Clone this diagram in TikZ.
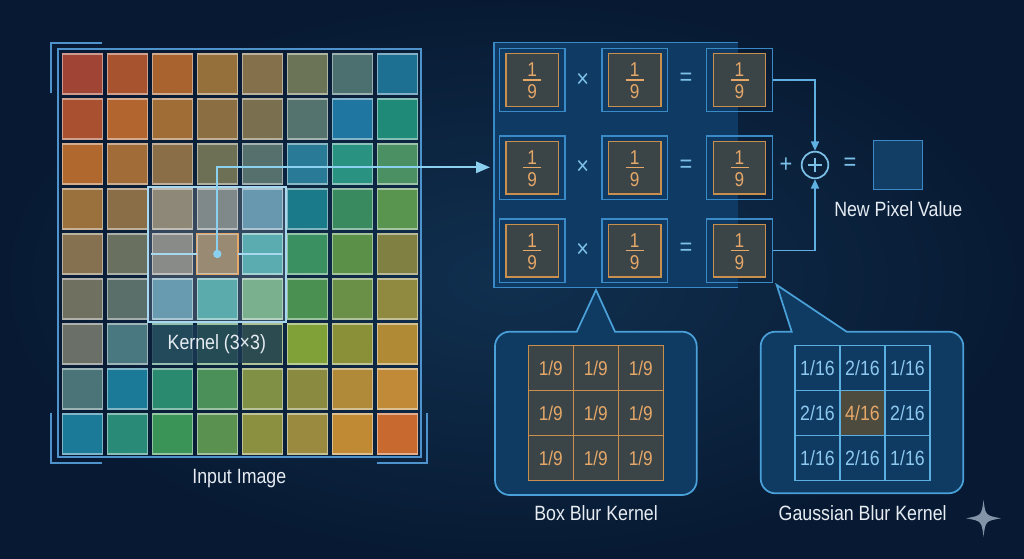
\documentclass[tikz,border=0pt]{standalone}
\usepackage{fontspec}
\setmainfont{Liberation Sans}[FakeStretch=0.86]
\usetikzlibrary{arrows.meta}
\definecolor{bgIn}{HTML}{10304F}
\definecolor{bgOut}{HTML}{081A33}
\definecolor{frameC}{HTML}{4F93CC}
\definecolor{lineC}{HTML}{5FB0E0}
\definecolor{kernC}{HTML}{A8D8F0}
\definecolor{dotC}{HTML}{8CD0F0}
\definecolor{panelC}{HTML}{0F3A63}
\definecolor{pborder}{HTML}{3A8AC8}
\definecolor{orangeC}{HTML}{C8904C}
\definecolor{orangeT}{HTML}{E6A868}
\definecolor{grayF}{HTML}{3B4447}
\definecolor{textC}{HTML}{E6ECF2}
\definecolor{signC}{HTML}{7CC0E8}
\definecolor{gaussT}{HTML}{8CC8F0}
\definecolor{gaussL}{HTML}{5AAEE0}
\definecolor{centerF}{HTML}{4D4A3E}
\definecolor{calloutF}{HTML}{0F3A62}
\definecolor{calloutB}{HTML}{4AA0D8}
\definecolor{newpixF}{HTML}{123E66}
\definecolor{sparkC}{HTML}{8494A8}
\definecolor{labelF}{HTML}{1C3A55}
\begin{document}
\begin{tikzpicture}[x=0.75pt,y=-0.75pt,
  cell/.style={minimum size=30pt,inner sep=0pt,line width=0.8pt},
  framestyle/.style={draw=frameC,line width=1.4pt},
  lbl/.style={text=textC,font=\fontsize{15.5}{18}\selectfont,inner sep=0pt},
  obox/.style={draw=pborder,line width=1.1pt,minimum width=49.3pt,minimum height=47.5pt,inner sep=0pt},
  ibox/.style={draw=orangeC,fill=grayF,line width=1.1pt,minimum width=39.2pt,minimum height=39.5pt,inner sep=0pt},
  fnum/.style={text=orangeT,font=\fontsize{15}{17}\selectfont,inner sep=0pt},
  fline/.style={draw=orangeT,line width=0.8pt},
  opsign/.style={text=signC,font=\fontsize{19}{21}\selectfont,inner sep=0pt},
  flow/.style={draw=lineC,line width=1.2pt},
  bgrid/.style={draw=orangeC,fill=grayF,line width=1pt,minimum size=33.75pt,inner sep=0pt,text=orangeT,font=\fontsize{15}{17}\selectfont},
  ggrid/.style={draw=gaussL,line width=1pt,minimum size=33.75pt,inner sep=0pt,text=gaussT,font=\fontsize{15.5}{17}\selectfont},
  gcenter/.style={ggrid,fill=centerF,text=orangeT},
  callout/.style={fill=calloutF,draw=calloutB,line width=1.3pt}
]
\useasboundingbox (0,0) rectangle (1024,559);
\shade[inner color=bgIn,outer color=bgOut] (0,0) rectangle (1024,559);

% ---------- input image grid ----------
\foreach \row [count=\r from 0] in {
  {A04535,A8532F,A8632F,96703A,84704A,6B7456,4C7070,1E7093},
  {A8502F,B2652E,A06D36,8B6E42,7A7050,55736E,1F76A0,1F8A78},
  {B0682E,A16C38,8A6E48,6E7056,56706E,287A96,2A9280,4A9062},
  {9A703C,8A6E48,76705C,667272,4A82A0,1A7A8A,3A8A60,5A9550},
  {857050,6A7060,727470,857358,3A9CA0,3A9060,5A9048,7F8042},
  {707060,5A6E6A,4A86A0,3A9A9C,60A078,4A9050,6A9048,908A40},
  {6A7068,4A7880,3A8A70,4A9058,70903E,80A038,8A9038,B08A35},
  {4A7478,1A7A98,2A8A70,4A9058,809045,8A8A40,B08A38,C08A38},
  {1A7A98,2A8A78,3A9458,5A9050,8A9040,9A8A40,C08A35,C86A30}} {
  \foreach \col [count=\c from 0] in \row {
    \definecolor{cc}{HTML}{\col}
    \node[cell,fill=cc,draw=cc!55!white] (c-\r-\c) at ({82.3+45*\c},{74+45*\r}) {};
  }
}
\draw[framestyle] (57.7,49.3) rectangle (420.7,456.7);
\draw[framestyle] (50.7,93.3) -- (50.7,43) -- (102.3,43);
\draw[framestyle] (50.7,412.7) -- (50.7,463.3) -- (102.3,463.3);
\draw[framestyle] (376.7,463.3) -- (427.3,463.3) -- (427.3,412.7);

% kernel highlight
\fill[white,opacity=0.17] (148.3,187.3) rectangle (286,322.3);
\draw[kernC,line width=1.6pt] (148.3,187.3) rectangle (286,322.3);
\draw[orangeT,line width=1pt] (c-4-3.north west) rectangle (c-4-3.south east);
\draw[kernC,line width=1.1pt] (150.7,254) -- (c-4-3.west);
\draw[kernC,line width=1.1pt] (c-4-3.east) -- (281.7,254);
\node[fill=labelF,fill opacity=0.8,text opacity=1,minimum width=97.3pt,minimum height=28.7pt,inner sep=0pt,text=textC,font=\fontsize{15.5}{18}\selectfont] (klabel) at (216.8,344.2) {Kernel (3×3)};
\node[lbl] (inlabel) at (239.3,479) {Input Image};

% ---------- operation panel ----------
\fill[panelC] (494,42.7) rectangle (738,287.7);
\draw[pborder,line width=1.2pt] (738,42.7) -- (494,42.7) -- (494,287.7) -- (738,287.7);
\coordinate (arrend) at (490,167.3);
\draw[dotC,line width=1.5pt,-{Triangle[length=10.5pt,width=8.5pt]}] (c-4-3.center) |- (arrend);
\fill[dotC] (c-4-3.center) circle (4.2);

\foreach \r/\yy in {1/80,2/167.7,3/250.7} {
  \foreach \c/\xx in {1/532.2,2/634.7,3/739.5} {
    \node[obox] (ob-\r-\c) at (\xx,\yy) {};
    \node[ibox] (ib-\r-\c) at (\xx,\yy) {};
    \node[fnum] (n-\r-\c) at (\xx,\yy-10.5) {1};
    \draw[fline] (\xx-9,\yy) -- (\xx+9,\yy);
    \node[fnum] (d-\r-\c) at (\xx,\yy+12) {9};
  }
  \node[opsign] (x-\r) at (582.7,\yy) {×};
  \node[opsign] (e-\r) at (686,\yy-1) {=};
}

% sum
\node[circle,draw=signC,line width=1.3pt,minimum size=20pt,inner sep=0pt] (sum) at (815,165) {};
\draw[signC,line width=1.3pt] ([xshift=-5.5pt]sum.center) -- ([xshift=5.5pt]sum.center);
\draw[signC,line width=1.3pt] ([yshift=-5.5pt]sum.center) -- ([yshift=5.5pt]sum.center);
\draw[flow,-{Triangle[length=7pt,width=6pt]}] (ob-1-3.east) -| (sum.north);
\draw[flow,-{Triangle[length=7pt,width=6pt]}] (ob-3-3.east) -| (sum.south);
\node[opsign] (plus) at (786,165) {+};
\node[opsign] (eq) at (850,164) {=};
\node[draw=pborder,fill=newpixF,line width=1.2pt,minimum width=37pt,minimum height=36.5pt,inner sep=0pt] (newpix) at (898,165) {};
\node[lbl] (nplabel) at (898.3,209) {New Pixel Value};

% ---------- box blur callout ----------
\path[callout] (576.7,331.7) -- (596,290) -- (615,331.7) [rounded corners=11pt] -- (696.7,331.7) -- (696.7,495) -- (495,495) -- (495,331.7) [sharp corners] -- (576.7,331.7) -- cycle;
\foreach \i/\yy in {1/368.1,2/413,3/457.9} {
  \foreach \j/\xx in {1/550.8,2/595.8,3/640.8} {
    \node[bgrid] (bb-\i-\j) at (\xx,\yy) {1/9};
  }
}
\node[lbl] (bblabel) at (596,513.3) {Box Blur Kernel};

% ---------- gaussian callout ----------
\path[callout] (791.7,331.7) -- (776.7,285) -- (846.7,331.7) [rounded corners=11pt] -- (963.3,331.7) -- (963.3,493.3) -- (760.7,493.3) -- (760.7,331.7) [sharp corners] -- (791.7,331.7) -- cycle;
\node[ggrid] (gg-1-1) at (817.5,368.3) {1/16};
\node[ggrid] (gg-1-2) at (862.5,368.3) {2/16};
\node[ggrid] (gg-1-3) at (907.5,368.3) {1/16};
\node[ggrid] (gg-2-1) at (817.5,413) {2/16};
\node[gcenter] (gg-2-2) at (862.5,413) {4/16};
\node[ggrid] (gg-2-3) at (907.5,413) {2/16};
\node[ggrid] (gg-3-1) at (817.5,457.7) {1/16};
\node[ggrid] (gg-3-2) at (862.5,457.7) {2/16};
\node[ggrid] (gg-3-3) at (907.5,457.7) {1/16};
\node[lbl] (gblabel) at (862.7,513.3) {Gaussian Blur Kernel};

% sparkle
\fill[sparkC] (983.5,500) .. controls (985.5,515.5) .. (1001,518.3) .. controls (985.5,521) .. (983.5,536.7) .. controls (981.5,521) .. (966,518.3) .. controls (981.5,515.5) .. (983.5,500) -- cycle;
\end{tikzpicture}
\end{document}
